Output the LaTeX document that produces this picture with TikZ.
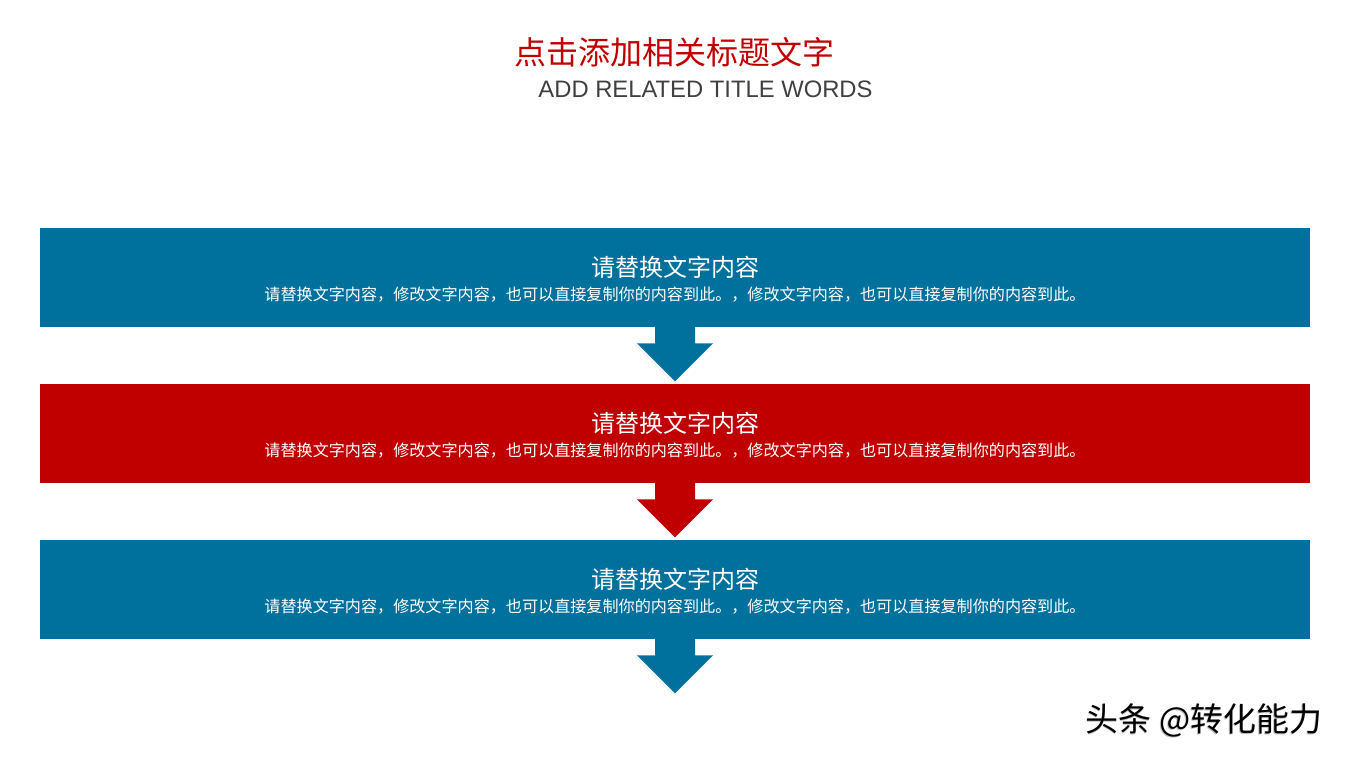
\documentclass[tikz,border=0pt]{standalone}
\usepackage{fontspec}
\setmainfont{Liberation Sans}
\newfontfamily\cjk{Noto Sans CJK SC}
\usetikzlibrary{positioning,calc}
\definecolor{barblue}{HTML}{00719C}
\definecolor{barred}{HTML}{C00000}
\definecolor{subgray}{HTML}{404040}
\tikzset{
  bar/.style={minimum width=635pt,minimum height=49.5pt,inner sep=0pt,fill=#1},
  headtext/.style={text=white,inner sep=0pt,font=\cjk\fontsize{12}{14}\selectfont},
  bodytext/.style={text=white,inner sep=0pt,font=\cjk\fontsize{8.05}{10}\selectfont},
}
\begin{document}
\begin{tikzpicture}[x=0.5pt,y=-0.5pt]
	\useasboundingbox (0,0) rectangle (1350,759);
	\node[text=barred,inner sep=0pt,font=\cjk\fontsize{16}{18}\selectfont] (title) at (674,52) {点击添加相关标题文字};
	\node[text=subgray,inner sep=0pt,font=\fontsize{11.9}{14}\selectfont] (subtitle) at (705.5,89) {ADD RELATED TITLE WORDS};
	\foreach \i/\c in {1/barblue,2/barred,3/barblue}
	{
		\node[bar=\c] (bar\i) at (675,{277.5+156*(\i-1)}) {};
		\node[headtext] (head\i) at ($(bar\i.center)+(0,-10.5)$) {请替换文字内容};
		\node[bodytext] (body\i) at ($(bar\i.center)+(0,17.5)$) {请替换文字内容，修改文字内容，也可以直接复制你的内容到此。，修改文字内容，也可以直接复制你的内容到此。};
		\fill[\c] ($(bar\i.south)+(-20,-1)$) -- ++(0,17) -- ++(-18,0) -- ($(bar\i.south)+(0,54)$) -- ($(bar\i.south)+(38,16)$) -- ++(-18,0) -- ++(0,-17) -- cycle;
	}
	\node[text=black!25,inner sep=0pt,font=\cjk\fontsize{16.5}{18}\selectfont] (markshadow) at (1203.5,721.5) {头条 @转化能力};
	\node[text=black,inner sep=0pt,font=\cjk\fontsize{16.5}{18}\selectfont] (mark) at (1204,720) {头条 @转化能力};
\end{tikzpicture}
\end{document}
